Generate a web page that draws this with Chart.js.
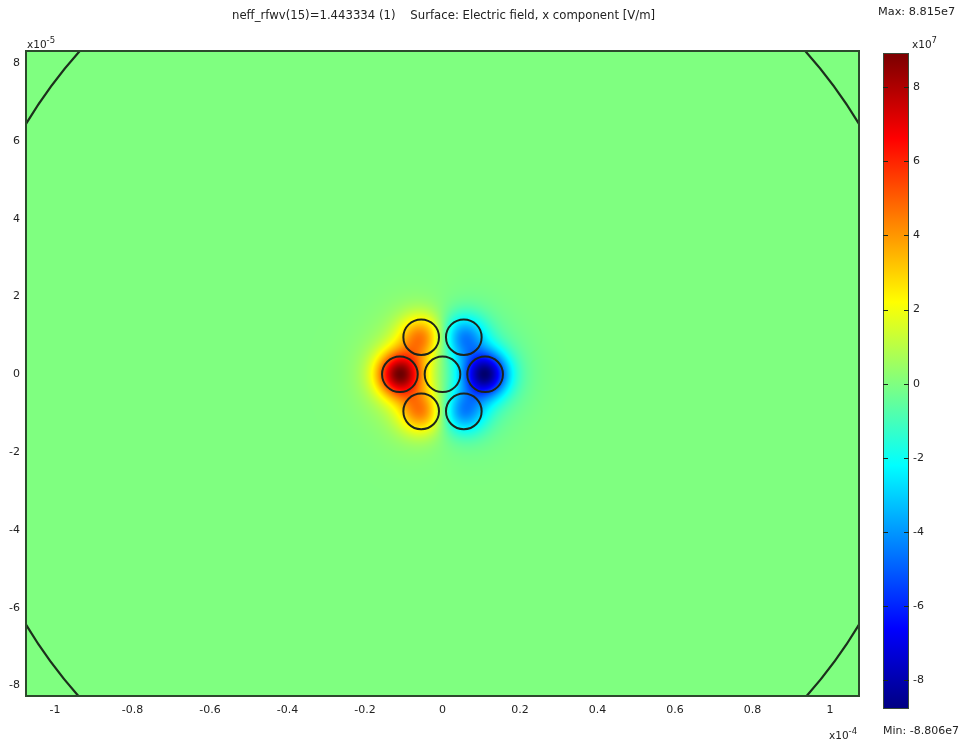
<!DOCTYPE html>
<html>
<head>
<meta charset="utf-8">
<title>Electric field, x component</title>
<script src="https://cdn.jsdelivr.net/npm/chart.js@4.4.1/dist/chart.umd.min.js"></script>
<style>
  html, body { margin: 0; padding: 0; background: #ffffff; }
  #wrap { position: relative; width: 961px; height: 743px; overflow: hidden;
          font-family: "DejaVu Sans", Verdana, sans-serif; color: #222; }
  canvas { position: absolute; }
  .lbl { position: absolute; font-size: 11px; white-space: pre; line-height: 1; }
  .lbl sup { font-size: 8.5px; vertical-align: 5px; line-height: 0; }
</style>
</head>
<body>
<div id="wrap">
  <canvas id="field" style="left:0;top:0;width:880px;height:743px" width="880" height="743"></canvas>
  <canvas id="cbar" style="left:870px;top:0;width:91px;height:743px" width="91" height="743"></canvas>
  <div class="lbl" id="title" style="left:232px;top:10px;font-size:11.7px">neff_rfwv(15)=1.443334 (1)    Surface: Electric field, x component [V/m]</div>
  <div class="lbl" style="left:878px;top:6px;font-size:11.3px">Max: 8.815e7</div>
  <div class="lbl" style="left:883px;top:725px">Min: -8.806e7</div>
  <div class="lbl" style="left:912px;top:39px;font-size:10.5px">x10<sup>7</sup></div>
  <div class="lbl" style="left:27px;top:39px;font-size:10.5px">x10<sup>-5</sup></div>
  <div class="lbl" style="left:829px;top:730px;font-size:10.5px">x10<sup>-4</sup></div>
</div>
<script>
// Domain of the cross-section (m)
const xMin = -1.075e-4, xMax = 1.075e-4;
const yMin = -8.27e-5, yMax = 8.31e-5;

// Tick values (m)
const xTicks = [-1e-4, -0.8e-4, -0.6e-4, -0.4e-4, -0.2e-4, 0, 0.2e-4, 0.4e-4, 0.6e-4, 0.8e-4, 1e-4];
const yTicks = [-8e-5, -6e-5, -4e-5, -2e-5, 0, 2e-5, 4e-5, 6e-5, 8e-5];

// Seven-core fibre: core centres (m), core radius (m)
const coreX = [0, -1.1e-5, 1.1e-5, -0.55e-5, 0.55e-5, -0.55e-5, 0.55e-5];
const coreY = [0, 0, 0, 0.953e-5, 0.953e-5, -0.953e-5, -0.953e-5];
const coreR = 4.6e-6;
// Peak Ex in each core (1e7 V/m)
const coreAmp = [0, 8.7, -8.7, 4.3, -4.2, 4.3, -4.2];

// Cladding boundary radius (m)
const cladR = 1.254e-4;

// Colour range of the surface (1e7 V/m) and extent of the colour bar axis
const fieldMin = -8.806, fieldMax = 8.815;
const cbarLo = -8.77, cbarHi = 8.92;
const cbarTicks = [-8, -6, -4, -2, 0, 2, 4, 6, 8];

// Jet colour map, t in [0,1]
function jet(t) {
  const c = v => Math.max(0, Math.min(1, v));
  return [c(1.5 - Math.abs(4 * t - 3)), c(1.5 - Math.abs(4 * t - 2)), c(1.5 - Math.abs(4 * t - 1))];
}

// Ex at (x, y): each core carries a lobe with a tight core part and a weak evanescent tail
function fieldAt(x, y) {
  let v = 0;
  for (let i = 0; i < coreX.length; i++) {
    if (!coreAmp[i]) continue;
    const dx = x - coreX[i], dy = y - coreY[i];
    const r2 = (dx * dx + dy * dy) / (coreR * coreR);
    v += coreAmp[i] * (0.88 * Math.exp(-r2 / 1.5) + 0.12 * Math.exp(-r2 / 5.0));
  }
  return v;
}

const axisFont = { family: "'DejaVu Sans', Verdana, sans-serif", size: 11 };
const frameColor = '#2c4a2c';

// Paints the field surface into the plot area through the chart's scales
const surfacePlugin = {
  id: 'surface',
  beforeDatasetsDraw(chart) {
    const { ctx, chartArea: a, scales: { x, y } } = chart;
    const w = Math.round(a.right - a.left), h = Math.round(a.bottom - a.top);
    const img = ctx.createImageData(w, h);
    const span = fieldMax - fieldMin;
    for (let j = 0; j < h; j++) {
      const yv = y.getValueForPixel(a.top + j + 0.5);
      for (let i = 0; i < w; i++) {
        const xv = x.getValueForPixel(a.left + i + 0.5);
        const col = jet((fieldAt(xv, yv) - fieldMin) / span);
        const k = (j * w + i) * 4;
        img.data[k] = Math.round(col[0] * 255);
        img.data[k + 1] = Math.round(col[1] * 255);
        img.data[k + 2] = Math.round(col[2] * 255);
        img.data[k + 3] = 255;
      }
    }
    ctx.putImageData(img, Math.round(a.left), Math.round(a.top));
  },
  afterDraw(chart) {
    const { ctx, chartArea: a } = chart;
    ctx.save();
    ctx.strokeStyle = frameColor;
    ctx.lineWidth = 2;
    ctx.strokeRect(a.left, a.top, a.right - a.left, a.bottom - a.top);
    ctx.restore();
  }
};

// Radius in pixels of a length given in metres along x
function pxRadius(ctx, len) {
  const s = ctx.chart.scales.x;
  return Math.abs(s.getPixelForValue(len) - s.getPixelForValue(0));
}

new Chart(document.getElementById('field'), {
  type: 'scatter',
  data: {
    datasets: [
      {
        label: 'cores',
        data: coreX.map((cx, i) => ({ x: cx, y: coreY[i] })),
        pointRadius: ctx => pxRadius(ctx, coreR),
        pointHoverRadius: ctx => pxRadius(ctx, coreR),
        pointBackgroundColor: 'rgba(0,0,0,0)',
        pointBorderColor: '#1c241c',
        pointBorderWidth: 2
      },
      {
        label: 'cladding',
        data: [{ x: 0, y: 0 }],
        pointRadius: ctx => pxRadius(ctx, cladR),
        pointHoverRadius: ctx => pxRadius(ctx, cladR),
        pointBackgroundColor: 'rgba(0,0,0,0)',
        pointBorderColor: '#1c301c',
        pointBorderWidth: 2.2
      }
    ]
  },
  options: {
    responsive: false,
    animation: false,
    events: [],
    layout: { padding: { left: 0, top: 51, right: 21, bottom: 27 } },
    plugins: { legend: { display: false }, tooltip: { enabled: false }, title: { display: false } },
    scales: {
      x: {
        type: 'linear', min: xMin, max: xMax,
        afterFit: s => { s.height = 20; },
        afterBuildTicks: s => { s.ticks = xTicks.map(v => ({ value: v })); },
        grid: { display: false, drawTicks: false },
        border: { display: false },
        ticks: { font: axisFont, color: '#222', padding: 8, maxRotation: 0,
                 callback: v => String(Math.round(v / 1e-4 * 10) / 10) }
      },
      y: {
        type: 'linear', min: yMin, max: yMax,
        afterFit: s => { s.width = 26; },
        afterBuildTicks: s => { s.ticks = yTicks.map(v => ({ value: v })); },
        grid: { display: false, drawTicks: false },
        border: { display: false },
        ticks: { font: axisFont, color: '#222', padding: 6,
                 callback: v => String(Math.round(v / 1e-5)) }
      }
    }
  },
  plugins: [surfacePlugin]
});

// Colour bar: one floating bar spanning the colour axis, filled with the jet map
const cbarPlugin = {
  id: 'cbarTicks',
  afterDraw(chart) {
    const { ctx, chartArea: a, scales: { y } } = chart;
    ctx.save();
    ctx.strokeStyle = '#3a4a3a';
    ctx.lineWidth = 1;
    ctx.strokeRect(a.left + 0.5, a.top + 0.5, a.right - a.left - 1, a.bottom - a.top - 1);
    ctx.strokeStyle = '#1a2a1a';
    cbarTicks.forEach(t => {
      const py = Math.round(y.getPixelForValue(t)) + 0.5;
      ctx.beginPath();
      ctx.moveTo(a.left, py); ctx.lineTo(a.left + 5, py);
      ctx.moveTo(a.right - 5, py); ctx.lineTo(a.right, py);
      ctx.stroke();
    });
    ctx.restore();
  }
};

new Chart(document.getElementById('cbar'), {
  type: 'bar',
  data: {
    labels: ['Ex'],
    datasets: [{
      data: [[cbarLo, cbarHi]],
      barPercentage: 1,
      categoryPercentage: 1,
      borderWidth: 0,
      backgroundColor: ctx => {
        const a = ctx.chart.chartArea;
        if (!a) return '#80ff80';
        const y = ctx.chart.scales.y;
        const g = ctx.chart.ctx.createLinearGradient(0, y.getPixelForValue(fieldMin), 0, y.getPixelForValue(fieldMax));
        for (let k = 0; k <= 32; k++) {
          const c = jet(k / 32);
          g.addColorStop(k / 32, `rgb(${Math.round(c[0] * 255)},${Math.round(c[1] * 255)},${Math.round(c[2] * 255)})`);
        }
        return g;
      }
    }]
  },
  options: {
    responsive: false,
    animation: false,
    events: [],
    layout: { padding: { left: 13, top: 53, right: 0, bottom: 34 } },
    plugins: { legend: { display: false }, tooltip: { enabled: false } },
    scales: {
      x: { display: false },
      y: {
        position: 'right', min: cbarLo, max: cbarHi,
        afterFit: s => { s.width = 52; },
        afterBuildTicks: s => { s.ticks = cbarTicks.map(v => ({ value: v })); },
        grid: { display: false, drawTicks: false },
        border: { display: false },
        ticks: { font: axisFont, color: '#222', padding: 4 }
      }
    }
  },
  plugins: [cbarPlugin]
});
</script>
</body>
</html>
